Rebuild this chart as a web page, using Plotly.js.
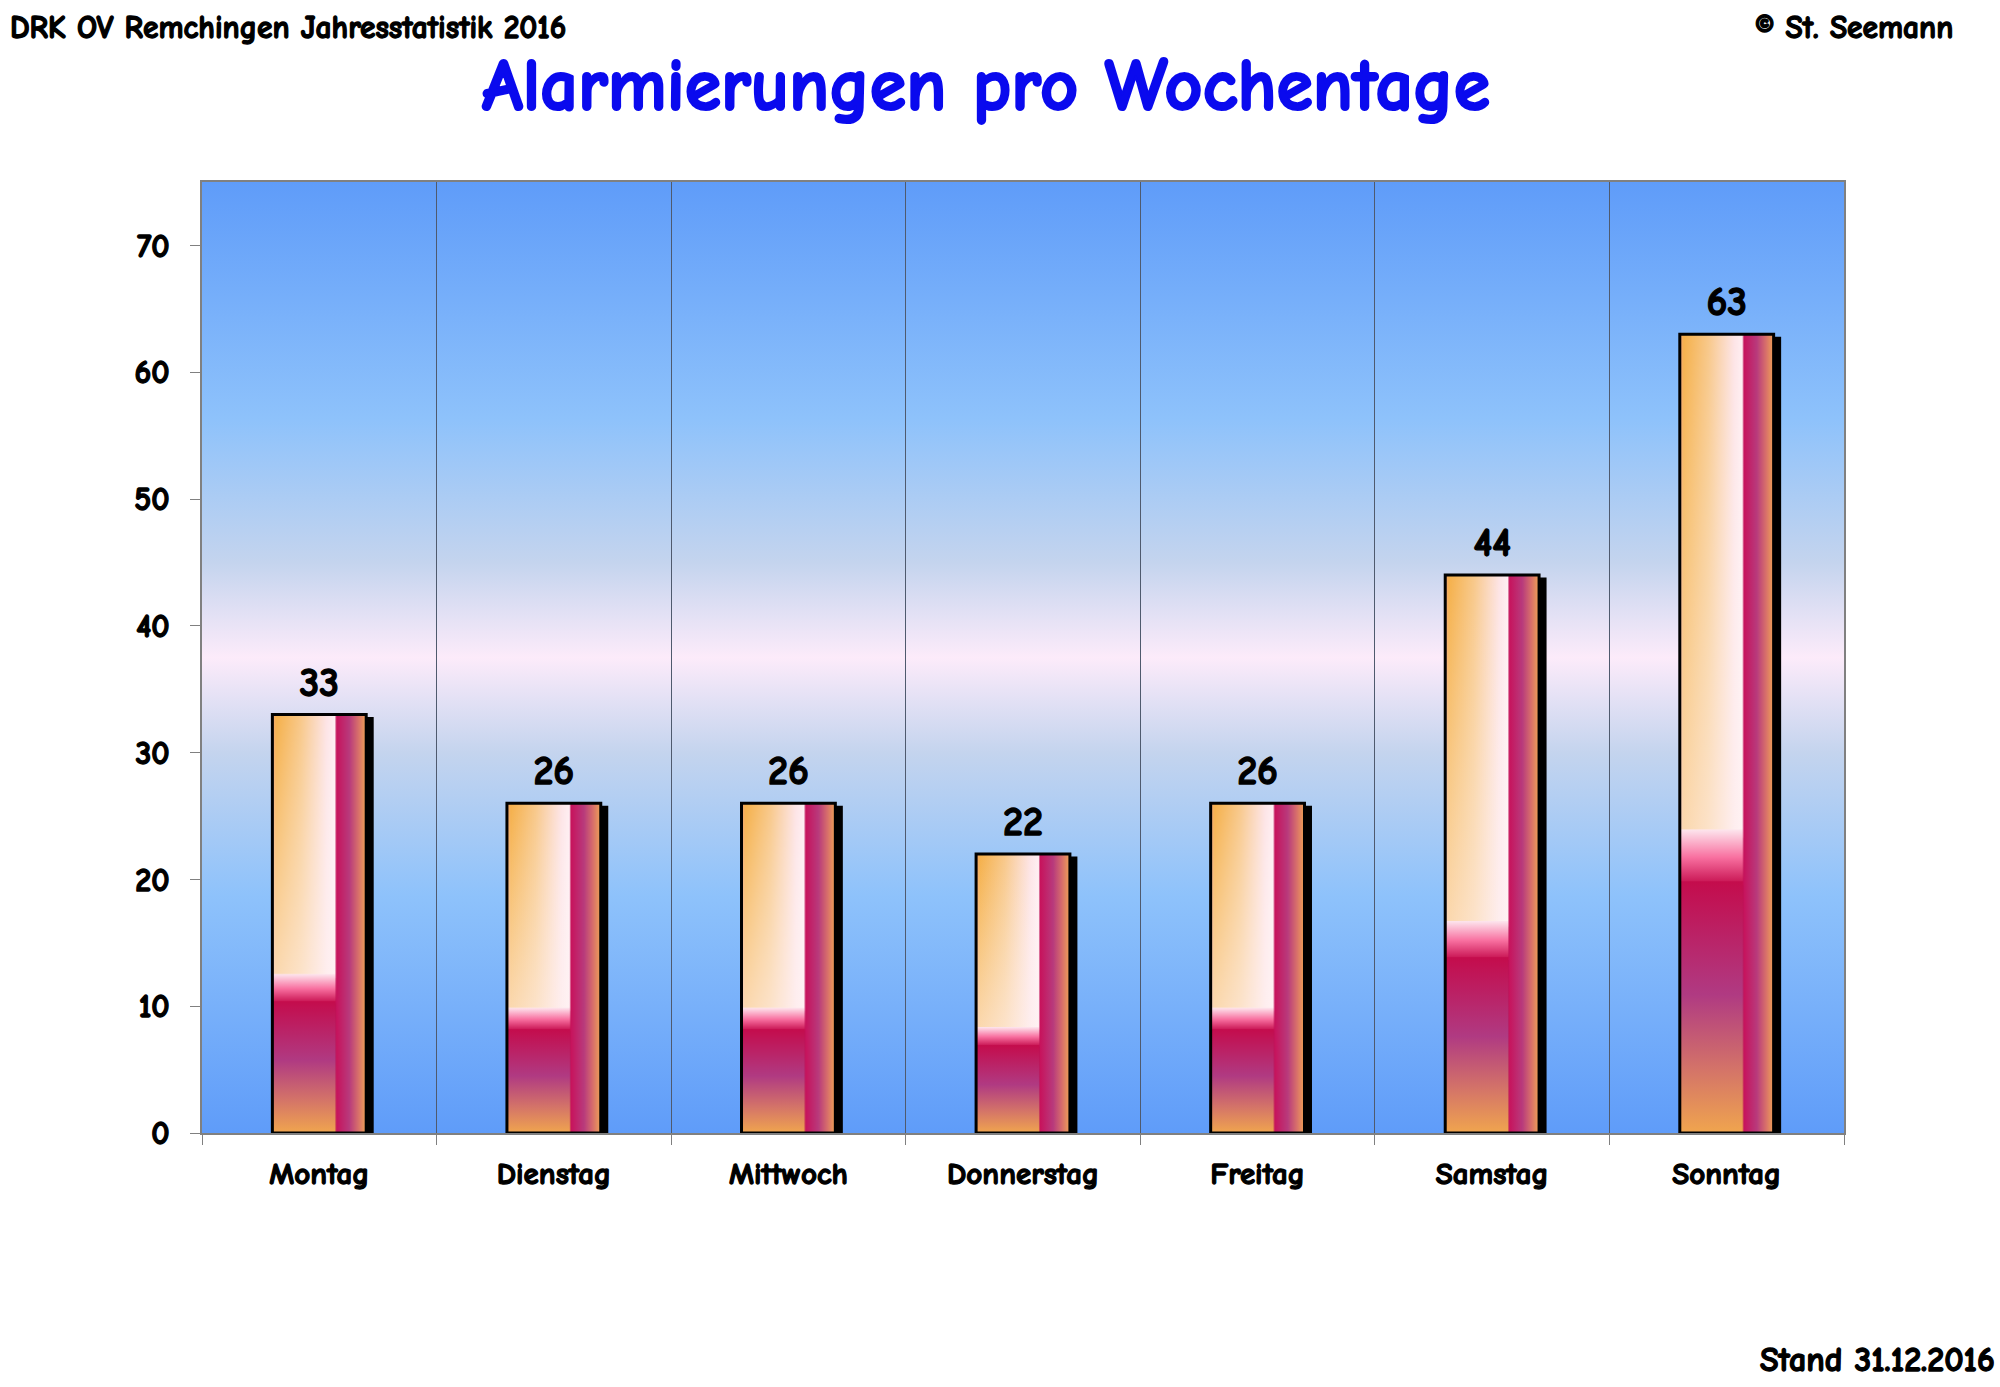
<!DOCTYPE html>
<html>
<head>
<meta charset="utf-8">
<script src="https://cdn.plot.ly/plotly-3.0.1.min.js"></script>
<style>
  body { margin: 0; background: #fff; }
  #chart { width: 2000px; height: 1387px; }
</style>
</head>
<body>
<div id="chart"></div>
<script>
// Alarmierungen 2016 je Wochentag
var days = ["Montag", "Dienstag", "Mittwoch", "Donnerstag", "Freitag", "Samstag", "Sonntag"];
var alarms = [33, 26, 26, 22, 26, 44, 63];
var yTicks = [0, 10, 20, 30, 40, 50, 60, 70];

var W = 2000, H = 1387;
var m = { l: 202, r: 156, t: 182, b: 254 };
var pw = W - m.l - m.r, ph = H - m.t - m.b;
// pixel -> paper coords
function px(x) { return (x - m.l) / pw; }
function py(y) { return (H - m.b - y) / ph; }

var FONT = '"Comic Sans MS", "Comic Neue", "DejaVu Sans", sans-serif';

// background gradient of the plot area
var bgSvg = "<svg xmlns='http://www.w3.org/2000/svg' width='100' height='100' viewBox='0 0 100 100' preserveAspectRatio='none'>" +
  "<defs><linearGradient id='g' x1='0' y1='0' x2='0' y2='1'>" +
  "<stop offset='0' stop-color='#5f9cf9'/>" +
  "<stop offset='0.25' stop-color='#8ec2fb'/>" +
  "<stop offset='0.4' stop-color='#c4d4ee'/>" +
  "<stop offset='0.5' stop-color='#fcebfa'/>" +
  "<stop offset='0.6' stop-color='#c4d4ee'/>" +
  "<stop offset='0.75' stop-color='#8ec2fb'/>" +
  "<stop offset='1' stop-color='#5f9cf9'/>" +
  "</linearGradient></defs><rect width='100' height='100' fill='url(#g)'/></svg>";

var trace = {
  type: "bar",
  x: days,
  y: alarms,
  width: 0.4,
  marker: { color: "#f0a050", line: { color: "#000", width: 3 } },
  text: alarms.map(String),
  textposition: "outside",
  textfont: { family: FONT, size: 40, color: "#000", weight: "bold" },
  cliponaxis: true,
  hoverinfo: "skip"
};

var layout = {
  width: W,
  height: H,
  margin: m,
  paper_bgcolor: "#fff",
  plot_bgcolor: "rgba(0,0,0,0)",
  showlegend: false,
  font: { family: FONT, color: "#000" },
  title: {
    text: "Alarmierungen pro Wochentage",
    font: { family: FONT, size: 74, color: "#0a0aee", weight: "bold" },
    x: 0.493, xanchor: "center",
    y: 1 - 84 / H, yanchor: "middle"
  },
  xaxis: {
    type: "category",
    tickson: "boundaries",
    showgrid: true,
    gridcolor: "#4f5a6e",
    gridwidth: 1,
    ticks: "outside",
    ticklen: 10,
    tickcolor: "#808080",
    showline: true,
    linecolor: "#808080",
    linewidth: 2,
    mirror: true,
    ticklabelstandoff: 12,
    tickfont: { family: FONT, size: 31, color: "#000", weight: "bold" }
  },
  yaxis: {
    range: [0, 75],
    tickvals: yTicks,
    showgrid: false,
    zeroline: false,
    ticks: "outside",
    ticklen: 10,
    tickcolor: "#808080",
    showline: true,
    linecolor: "#808080",
    linewidth: 2,
    mirror: true,
    ticklabelstandoff: 14,
    tickfont: { family: FONT, size: 32, color: "#000", weight: "bold" }
  },
  images: [{
    source: "data:image/svg+xml;charset=utf-8," + encodeURIComponent(bgSvg),
    xref: "paper", yref: "paper",
    x: 0, y: 1, sizex: 1, sizey: 1,
    xanchor: "left", yanchor: "top",
    sizing: "stretch",
    layer: "below"
  }],
  annotations: [
    {
      text: "DRK OV Remchingen Jahresstatistik 2016",
      xref: "paper", yref: "paper", x: px(8), y: py(28),
      xanchor: "left", yanchor: "middle", showarrow: false,
      font: { family: FONT, size: 31.5, color: "#000", weight: "bold" }
    },
    {
      text: "© St. Seemann",
      xref: "paper", yref: "paper", x: px(1955), y: py(28),
      xanchor: "right", yanchor: "middle", showarrow: false,
      font: { family: FONT, size: 31.5, color: "#000", weight: "bold" }
    },
    {
      text: "Stand 31.12.2016",
      xref: "paper", yref: "paper", x: px(1997), y: py(1360),
      xanchor: "right", yanchor: "middle", showarrow: false,
      font: { family: FONT, size: 34, color: "#000", weight: "bold" }
    }
  ]
};

// bevel-like gradient fill for the bars (in bar bounding box units)
var barDefs =
  '<linearGradient id="gUL" x1="0" y1="0" x2="1" y2="0">' +
    '<stop offset="0" stop-color="#f4a47c"/><stop offset="0.06" stop-color="#f5b04a"/>' +
    '<stop offset="0.45" stop-color="#f8c88a"/><stop offset="0.85" stop-color="#fde4e6"/>' +
    '<stop offset="1" stop-color="#fff0f4"/></linearGradient>' +
  '<linearGradient id="gULv" x1="0" y1="0" x2="0" y2="1">' +
    '<stop offset="0" stop-color="#fff" stop-opacity="0"/><stop offset="1" stop-color="#fff4f4" stop-opacity="0.6"/></linearGradient>' +
  '<linearGradient id="gTr" x1="0" y1="0" x2="0" y2="1">' +
    '<stop offset="0" stop-color="#fde6ee"/><stop offset="0.5" stop-color="#f870a0"/>' +
    '<stop offset="1" stop-color="#c40c4c"/></linearGradient>' +
  '<linearGradient id="gLL" x1="0" y1="0" x2="0" y2="1">' +
    '<stop offset="0" stop-color="#c40c4c"/><stop offset="0.45" stop-color="#b03a82"/>' +
    '<stop offset="0.75" stop-color="#d47468"/><stop offset="1" stop-color="#f0a54e"/></linearGradient>' +
  '<linearGradient id="gR" x1="0" y1="0" x2="1" y2="0">' +
    '<stop offset="0" stop-color="#c8105a"/><stop offset="0.45" stop-color="#b83a7c"/>' +
    '<stop offset="0.75" stop-color="#d8706a"/><stop offset="1" stop-color="#eea255"/></linearGradient>' +
  '<pattern id="barfill" patternUnits="objectBoundingBox" patternContentUnits="objectBoundingBox" x="0" y="0" width="1" height="1">' +
    '<rect x="0" y="0" width="0.68" height="0.63" fill="url(#gUL)"/>' +
    '<rect x="0" y="0" width="0.68" height="0.63" fill="url(#gULv)"/>' +
    '<rect x="0" y="0.62" width="0.68" height="0.07" fill="url(#gTr)"/>' +
    '<rect x="0" y="0.685" width="0.68" height="0.315" fill="url(#gLL)"/>' +
    '<rect x="0.675" y="0" width="0.325" height="1" fill="url(#gR)"/>' +
  '</pattern>';

Plotly.newPlot("chart", [trace], layout, { displayModeBar: false, staticPlot: true }).then(function (gd) {
  var defs = gd.querySelector("svg.main-svg defs");
  var g = document.createElementNS("http://www.w3.org/2000/svg", "g");
  g.innerHTML = barDefs;
  while (g.firstChild) defs.appendChild(g.firstChild);
  gd.querySelectorAll(".barlayer .point path").forEach(function (p) {
    p.style.fill = "url(#barfill)";
    p.style.filter = "drop-shadow(6px 4px 0 #000)";
  });
  // bar value labels sit a bit higher in the original
  gd.querySelectorAll(".barlayer .point text").forEach(function (t) {
    t.setAttribute("transform", (t.getAttribute("transform") || "") + " translate(0,-6)");
  });
  // thicker strokes so the comic font looks heavy like the original
  gd.querySelectorAll("text").forEach(function (t) {
    var c = t.style.fill || "#000";
    t.style.stroke = c;
    t.style.strokeWidth = t.classList.contains("gtitle") ? "2.2px" : "1.3px";
    t.style.strokeLinejoin = "round";
  });
});
</script>
</body>
</html>
